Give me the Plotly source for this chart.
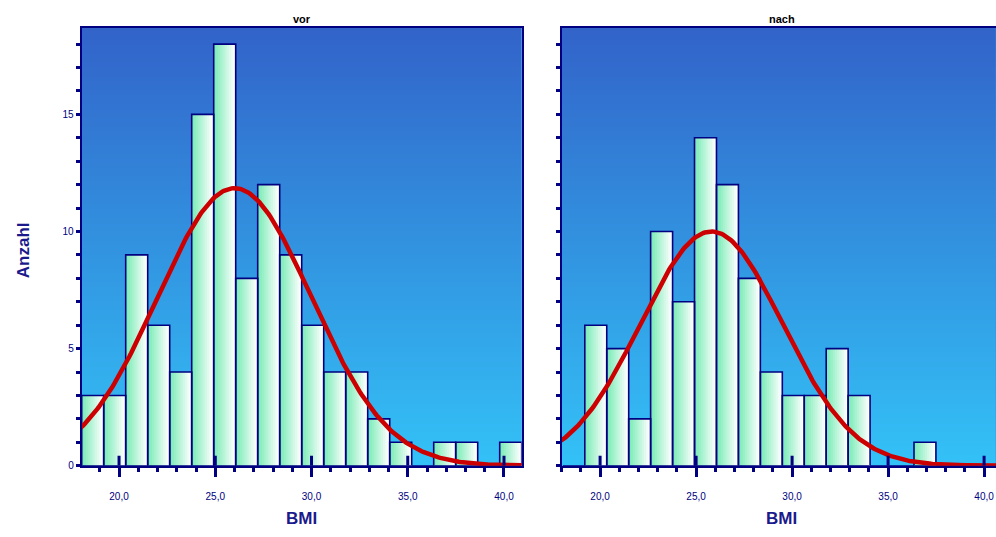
import numpy as np
import plotly.graph_objects as go

# ---------------- data ----------------
bin_start = 18.06
bin_width = 1.143
counts_vor = [3, 3, 9, 6, 4, 15, 18, 8, 12, 9, 6, 4, 4, 2, 1, 0, 1, 1, 0, 1]
counts_nach = [0, 6, 5, 2, 10, 7, 14, 12, 8, 4, 3, 3, 5, 3, 0, 0, 1, 0, 0, 0]
mean_vor, sd_vor, peak_vor = 26.0, 4.0, 11.85
mean_nach, sd_nach, peak_nach = 25.8, 3.7, 10.0
x_tickvals = [20, 25, 30, 35, 40]
x_ticktext = ["20,0", "25,0", "30,0", "35,0", "40,0"]
y_tickvals = [0, 5, 10, 15]
y_ticktext = ["0", "5", "10", "15"]
panel_titles = ["vor", "nach"]

NAVY = "#000080"
RED = "#cc0000"
x_range_left = [18.06, 40.92]
x_range_right = [18.0, 40.62]
y_range = [0, 18.7]

fig = go.Figure()

centers = [bin_start + bin_width * (i + 0.5) for i in range(len(counts_vor))]


def add_background(xa, ya, xr):
    ys = np.linspace(y_range[0], y_range[1], 60)
    z = [[v, v] for v in ys]
    fig.add_trace(go.Heatmap(
        x=[xr[0] - 1, xr[1] + 1], y=ys, z=z, xaxis=xa, yaxis=ya,
        colorscale=[[0, "#33c2f7"], [0.5, "#3293e0"], [1, "#3263c9"]],
        showscale=False, hoverinfo="skip", zsmooth="best"))


def add_bars(xa, ya, counts):
    steps = 10
    c0 = np.array([0x7c, 0xec, 0xb8])
    c1 = np.array([0xff, 0xff, 0xff])
    for k in range(steps):
        frac = k / steps
        w = bin_width * (1 - frac)
        col = c0 + (c1 - c0) * (k / (steps - 1))
        fig.add_trace(go.Bar(
            x=centers, y=counts, width=w, offset=bin_width / 2 - w,
            xaxis=xa, yaxis=ya, marker=dict(color="rgb(%d,%d,%d)" % tuple(col.astype(int)), line=dict(width=0)),
            hoverinfo="skip", showlegend=False))
    fig.add_trace(go.Bar(
        x=centers, y=counts, width=bin_width, xaxis=xa, yaxis=ya,
        marker=dict(color="rgba(0,0,0,0)", line=dict(color=NAVY, width=1.6)),
        showlegend=False))


def add_curve(xa, ya, m, s, p):
    xs = np.linspace(17.5, 41.5, 300)
    ys = p * np.exp(-0.5 * ((xs - m) / s) ** 2)
    fig.add_trace(go.Scatter(x=xs, y=ys, xaxis=xa, yaxis=ya, mode="lines",
                             line=dict(color=RED, width=4.5), showlegend=False))


add_background("x", "y", x_range_left)
add_background("x2", "y2", x_range_right)
add_bars("x", "y", counts_vor)
add_bars("x2", "y2", counts_nach)
add_curve("x", "y", mean_vor, sd_vor, peak_vor)
add_curve("x2", "y2", mean_nach, sd_nach, peak_nach)

W, H = 996, 537
ydom = [1 - 471 / H, 1 - 28 / H]

xcommon = dict(showline=True, linecolor=NAVY, linewidth=2, mirror=True,
               tickvals=x_tickvals, ticktext=x_ticktext, ticks="outside",
               ticklen=9, tickwidth=3, tickcolor=NAVY, ticklabelstandoff=11,
               tickfont=dict(family="Liberation Sans", size=10, color=NAVY),
               minor=dict(dtick=1, tick0=0, ticks="outside", ticklen=4, tickwidth=3, tickcolor=NAVY),
               showgrid=False, zeroline=False, fixedrange=True)
ycommon = dict(showline=True, linecolor=NAVY, linewidth=2, range=y_range,
               tickvals=y_tickvals, ticks="outside", ticklen=4, tickwidth=3, tickcolor=NAVY,
               tickfont=dict(family="Liberation Sans", size=10, color=NAVY),
               minor=dict(dtick=1, tick0=0, ticks="outside", ticklen=4, tickwidth=3, tickcolor=NAVY),
               showgrid=False, zeroline=False, fixedrange=True)

fig.update_layout(
    width=W, height=H, margin=dict(l=0, r=0, t=0, b=0),
    paper_bgcolor="white", plot_bgcolor="#3293e0",
    barmode="overlay", showlegend=False,
    xaxis=dict(domain=[81.7 / W, 521.7 / W], range=x_range_left, anchor="y", **xcommon),
    xaxis2=dict(domain=[561.7 / W, 1.0], range=x_range_right, anchor="y2", **xcommon),
    yaxis=dict(domain=ydom, anchor="x", mirror=True, ticktext=y_ticktext, **ycommon),
    yaxis2=dict(domain=ydom, anchor="x2", mirror=False, showticklabels=False, **ycommon),
)

# inner half of the crossing major x ticks
shapes = []
for xa, ya, xr in [("x", "y", x_range_left), ("x2", "y2", x_range_right)]:
    for v in x_tickvals:
        if xr[0] <= v <= xr[1]:
            shapes.append(dict(type="line", xref=xa, yref=ya, x0=v, x1=v,
                               ysizemode="pixel", yanchor=0, y0=0, y1=10,
                               line=dict(color=NAVY, width=3), layer="above"))
fig.update_layout(shapes=shapes)

ann_common = dict(xref="paper", yref="paper", showarrow=False, xanchor="center", yanchor="middle")
annotations = [
    dict(text="<b>%s</b>" % panel_titles[0], x=301.7 / W, y=1 - 19.5 / H,
         font=dict(family="Liberation Sans", size=11, color="black"), **ann_common),
    dict(text="<b>%s</b>" % panel_titles[1], x=781.7 / W, y=1 - 19.5 / H,
         font=dict(family="Liberation Sans", size=11, color="black"), **ann_common),
    dict(text="<b>BMI</b>", x=301.7 / W, y=1 - 524 / H,
         font=dict(family="Liberation Sans", size=17, color="#1a1a8c"), **ann_common),
    dict(text="<b>BMI</b>", x=781.7 / W, y=1 - 524 / H,
         font=dict(family="Liberation Sans", size=17, color="#1a1a8c"), **ann_common),
    dict(text="<b>Anzahl</b>", x=23 / W, y=1 - 253 / H, textangle=-90,
         font=dict(family="Liberation Sans", size=17, color="#1a1a8c"), **ann_common),
]
fig.update_layout(annotations=annotations)

fig.write_html("out.html", config={"displayModeBar": False},
               post_script="document.body.style.margin='0';document.body.style.overflow='hidden';")
